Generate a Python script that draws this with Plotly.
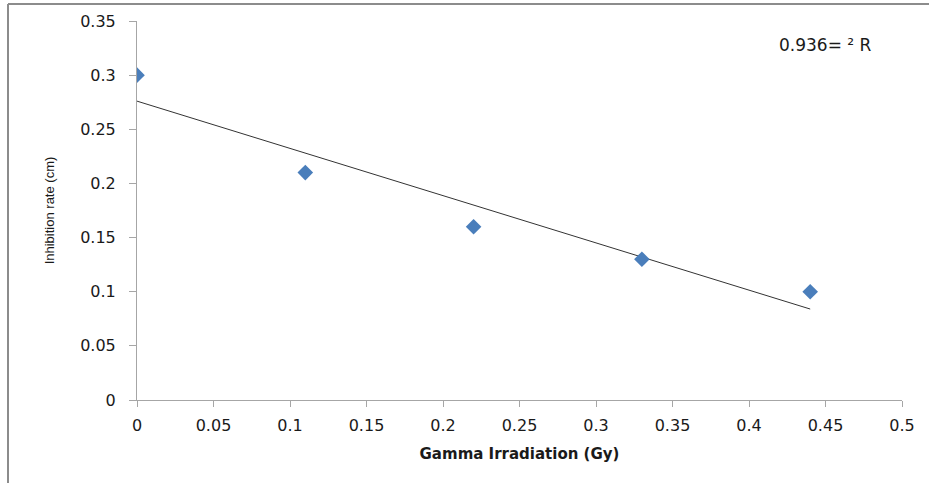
import numpy as np
import plotly.graph_objects as go

# Data
dose_gy = [0, 0.11, 0.22, 0.33, 0.44]
inhibition_cm = [0.30, 0.21, 0.16, 0.13, 0.10]
r2_label = "0.936= ² R"
x_title = "Gamma Irradiation (Gy)"
y_title = "Inhibition rate (cm)"

W, H = 929, 483
L, R, T, B = 137, 27, 21, 83

# linear trend line fitted from the data
slope, intercept = np.polyfit(dose_gy, inhibition_cm, 1)
trend_x = [min(dose_gy), max(dose_gy)]
trend_y = [slope * v + intercept for v in trend_x]

def px_x(p):
    return (p - L) / (W - L - R)

def px_y(p):
    return (H - B - p) / (H - T - B)

fig = go.Figure()
fig.add_trace(go.Scatter(x=trend_x, y=trend_y, mode="lines",
                         line=dict(color="#333333", width=1), showlegend=False,
                         hoverinfo="skip"))
fig.add_trace(go.Scatter(x=dose_gy, y=inhibition_cm, mode="markers",
                         marker=dict(symbol="diamond", size=12, color="#4a7ebb",
                                     line=dict(width=0)),
                         showlegend=False))

axis_color = "#a6a6a6"
tick_font = dict(family="DejaVu Sans", size=16, color="#1a1a1a")

fig.update_layout(
    width=W, height=H,
    margin=dict(l=L, r=R, t=T, b=B),
    paper_bgcolor="white", plot_bgcolor="white",
    xaxis=dict(range=[0, 0.5], dtick=0.05, tick0=0, showgrid=False, zeroline=False,
               showline=True, linecolor=axis_color, linewidth=1,
               ticks="outside", ticklen=6, tickcolor=axis_color,
               tickfont=tick_font, ticklabelstandoff=5,
               title=dict(text=x_title, standoff=14,
                          font=dict(family="DejaVu Sans", size=15, color="#1a1a1a",
                                    weight="bold"))),
    yaxis=dict(range=[0, 0.35], dtick=0.05, tick0=0, showgrid=False, zeroline=False,
               showline=True, linecolor=axis_color, linewidth=1,
               ticks="outside", ticklen=7, tickcolor=axis_color,
               tickfont=tick_font, ticklabelstandoff=10,
               title=dict(text=y_title, standoff=22,
                          font=dict(family="Liberation Sans Narrow, Liberation Sans", size=13,
                                    color="#1a1a1a"))),
    annotations=[dict(text=r2_label, xref="paper", yref="paper",
                      x=px_x(825), y=px_y(45), xanchor="center", yanchor="middle",
                      showarrow=False,
                      font=dict(family="DejaVu Sans", size=17, color="#1a1a1a"))],
    shapes=[
        dict(type="line", xref="paper", yref="paper", layer="above",
             x0=px_x(8), x1=px_x(8), y0=px_y(4), y1=px_y(H + 2),
             line=dict(color="#8c8c8c", width=2)),
        dict(type="line", xref="paper", yref="paper", layer="above",
             x0=px_x(8), x1=px_x(W + 2), y0=px_y(4), y1=px_y(4),
             line=dict(color="#8c8c8c", width=2)),
    ],
)

fig.write_html("out.html", config={"displayModeBar": False},
               post_script="document.body.style.margin='0';")
